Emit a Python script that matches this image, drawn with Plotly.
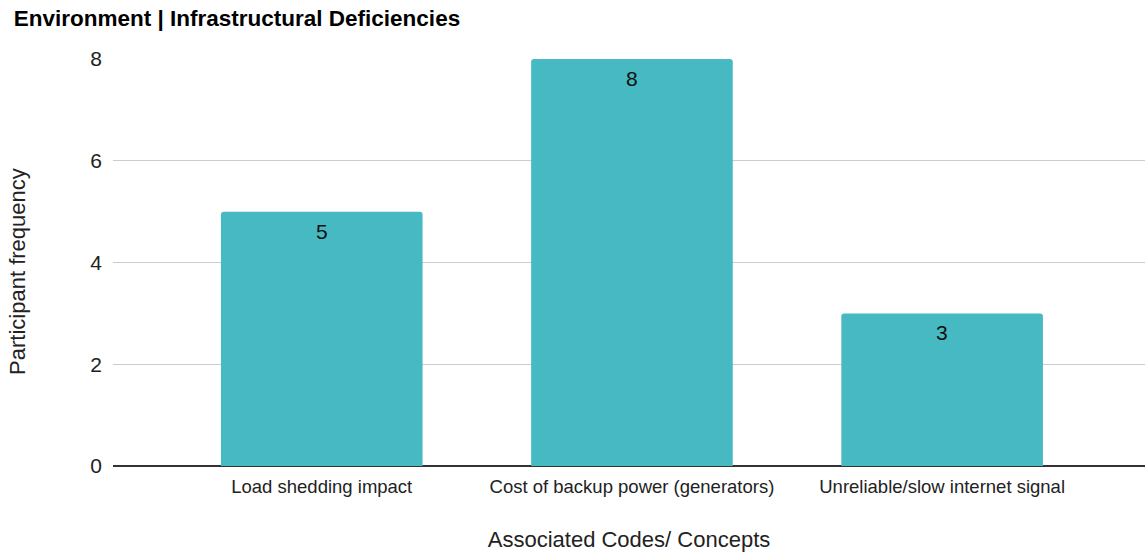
import plotly.graph_objects as go

categories = ["Load shedding impact", "Cost of backup power (generators)", "Unreliable/slow internet signal"]
frequencies = [5, 8, 3]
y_ticks = [0, 2, 4, 6, 8]

BAR_COLOR = "#47B9C3"
FONT = "Liberation Sans, Arial, sans-serif"

fig = go.Figure()
fig.add_trace(go.Bar(
    x=list(range(len(categories))),
    y=frequencies,
    width=0.65,
    marker=dict(color=BAR_COLOR, line=dict(width=0), cornerradius=3),
    hoverinfo="skip",
))

# value labels just inside the top of each bar
for i, v in enumerate(frequencies):
    fig.add_annotation(
        x=i, y=v, text=str(v), showarrow=False,
        yanchor="top", yshift=-6,
        font=dict(family=FONT, size=21, color="#111111"),
    )

# vertical axis title, centred on the full chart height
fig.add_annotation(
    text="Participant frequency", textangle=-90, showarrow=False,
    xref="paper", yref="paper", x=-0.092, y=0.477,
    xanchor="center", yanchor="middle",
    font=dict(family=FONT, size=22, color="#222222"),
)

fig.update_layout(
    width=1145, height=554,
    margin=dict(l=113, r=0, t=59, b=88),
    paper_bgcolor="white", plot_bgcolor="white",
    showlegend=False,
    title=dict(
        text="<b>Environment | Infrastructural Deficiencies</b>",
        x=0.012, xanchor="left", y=0.967, yanchor="middle",
        font=dict(family=FONT, size=22.5, color="#000000"),
    ),
    font=dict(family=FONT, color="#222222"),
)

fig.update_xaxes(
    range=[-0.673, 2.654],
    tickmode="array",
    tickvals=list(range(len(categories))),
    ticktext=categories,
    tickfont=dict(family=FONT, size=18.5, color="#222222"),
    showgrid=False, zeroline=False, showline=False, ticks="",
    ticklabelstandoff=7,
    title=dict(text="Associated Codes/ Concepts", standoff=36,
               font=dict(family=FONT, size=22, color="#222222")),
)

fig.update_yaxes(
    range=[0, 8],
    tickmode="array", tickvals=y_ticks,
    tickfont=dict(family=FONT, size=21, color="#222222"),
    showgrid=True, gridcolor="#CCCCCC", gridwidth=1,
    zeroline=True, zerolinecolor="#333333", zerolinewidth=1.5,
    showline=False, ticks="", ticklabelstandoff=10,
)

fig.write_html("out.html")
